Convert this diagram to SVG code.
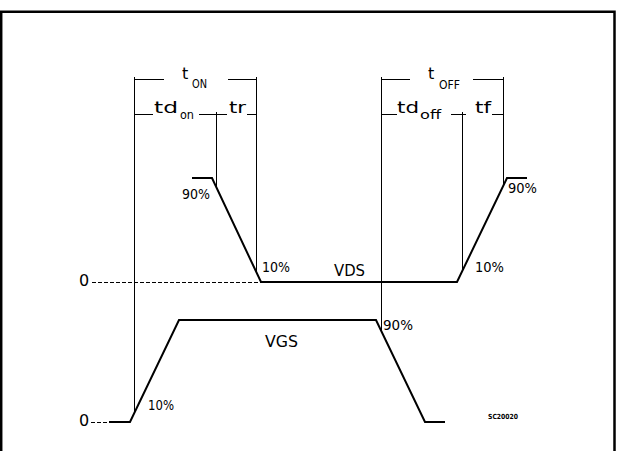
<svg xmlns="http://www.w3.org/2000/svg" width="617" height="451" viewBox="0 0 617 451">
<style>
.t{font-family:"DejaVu Sans","Liberation Sans",sans-serif;fill:#000}
.m{font-size:16px}
.s{font-size:12px}
.p{font-size:14px}
.dim{stroke:#000;stroke-width:1;fill:none}
.wave{stroke:#000;stroke-width:2;fill:none;stroke-linejoin:miter}
.dash{stroke:#000;stroke-width:1;fill:none;stroke-dasharray:4 2}
</style>
<rect x="0" y="0" width="617" height="451" fill="#fff"/>
<path d="M1.2,451 V11.8 H614.5 V451" fill="none" stroke="#000" stroke-width="2.5"/>
<g id="dimensions">
<path class="dim" d="M134.5,79.5 H164 M228,79.5 H256.5 M134.5,79.5 V414 M256.5,79.5 V271"/>
<path class="dim" d="M134.5,114.5 H153 M199,114.5 H227 M216.5,114.5 V187 M247,114.5 H256.5"/>
<path class="dim" d="M381.5,79.5 H410 M473,79.5 H503.5 M381.5,79.5 V330 M503.5,79.5 V185"/>
<path class="dim" d="M381.5,114.5 H397 M451,114.5 H466 M462.5,114.5 V272 M492,114.5 H503.5"/>
<path class="dim" d="M134.5,77 V82 M256.5,77 V82 M381.5,77 V82 M503.5,77 V82 M134.5,112 V117 M256.5,112 V117 M381.5,112 V117 M503.5,112 V117 M216.5,112 V115 M462.5,112 V115"/>
</g>
<g id="labels-top">
<text class="t m" x="182" y="79">t</text>
<text class="t s" x="192" y="88" textLength="15" lengthAdjust="spacingAndGlyphs">ON</text>
<text class="t m" x="154" y="113" textLength="24" lengthAdjust="spacingAndGlyphs">td</text>
<text class="t s" x="180" y="119" textLength="14" lengthAdjust="spacingAndGlyphs">on</text>
<text class="t m" x="229" y="113" textLength="17" lengthAdjust="spacingAndGlyphs">tr</text>
<text class="t m" x="428" y="79">t</text>
<text class="t s" x="439" y="89" textLength="21" lengthAdjust="spacingAndGlyphs">OFF</text>
<text class="t m" x="397" y="113" textLength="22" lengthAdjust="spacingAndGlyphs">td</text>
<text class="t s" x="420" y="119" textLength="21" lengthAdjust="spacingAndGlyphs">off</text>
<text class="t m" x="475" y="113" textLength="16" lengthAdjust="spacingAndGlyphs">tf</text>
</g>
<g id="VDS">
<path class="dash" d="M92,282.5 H261"/>
<path class="wave" d="M192,178 H212 L261,282 H457 L507,178 H527"/>
<text class="t p" x="182" y="199" textLength="28" lengthAdjust="spacingAndGlyphs">90%</text>
<text class="t p" x="262" y="272" textLength="28" lengthAdjust="spacingAndGlyphs">10%</text>
<text class="t p" x="508" y="193" textLength="29" lengthAdjust="spacingAndGlyphs">90%</text>
<text class="t p" x="475" y="272" textLength="29" lengthAdjust="spacingAndGlyphs">10%</text>
<text class="t m" x="334" y="276" textLength="31" lengthAdjust="spacingAndGlyphs">VDS</text>
<text class="t m" x="79" y="286">0</text>
</g>
<g id="VGS">
<path class="dash" d="M91,422.5 H109"/>
<path class="wave" d="M109,422 H130 L179,320 H376 L425,422 H445"/>
<text class="t p" x="148" y="410" textLength="26" lengthAdjust="spacingAndGlyphs">10%</text>
<text class="t p" x="383" y="330" textLength="30" lengthAdjust="spacingAndGlyphs">90%</text>
<text class="t m" x="265" y="347" textLength="33" lengthAdjust="spacingAndGlyphs">VGS</text>
<text class="t m" x="79" y="426">0</text>
</g>
<text class="t" x="488" y="419" font-size="7" font-weight="bold" textLength="30" lengthAdjust="spacingAndGlyphs">SC20020</text>
</svg>
